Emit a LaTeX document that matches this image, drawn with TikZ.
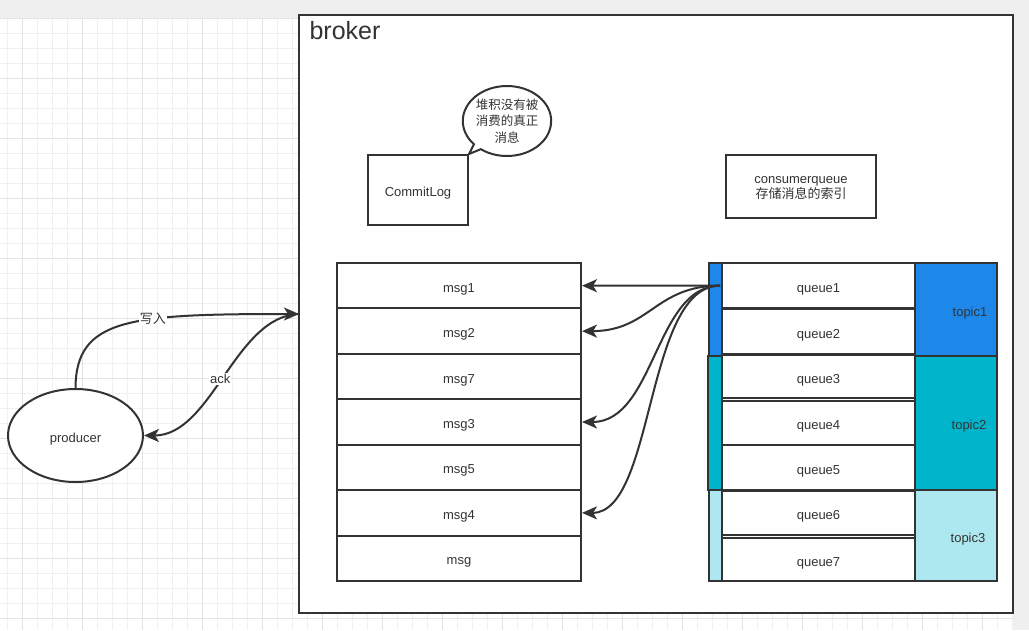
\documentclass[tikz,border=0pt]{standalone}
\usepackage{fontspec}
\setmainfont{Liberation Sans}
\newfontfamily\cjk{Noto Sans CJK SC}
\usetikzlibrary{arrows.meta,shapes.geometric,shapes.callouts}
\definecolor{ln}{HTML}{333333}
\definecolor{tA}{HTML}{1E88EA}
\definecolor{tB}{HTML}{00B4CC}
\definecolor{tC}{HTML}{ADE8F0}
\definecolor{gridminor}{HTML}{F0F0F0}
\definecolor{gridmajor}{HTML}{E3E3E3}
\definecolor{band}{HTML}{EFEFEF}
\begin{document}
\begin{tikzpicture}[x=1pt,y=-1pt,
  every node/.style={text=ln,font=\fontsize{13}{15}\selectfont},
  box/.style={draw=ln,line width=2pt,fill=white,inner sep=0pt,text height=13pt,text depth=0pt},
  plain/.style={draw=ln,line width=2pt,fill=white,inner sep=0pt},
  arr/.style={draw=ln,line width=2pt,-{Stealth[length=15pt,width=13pt,inset=4pt]}},
  lbl/.style={fill=white,inner sep=1pt}]
\useasboundingbox (0,0) rectangle (1029,630);
\fill[band] (0,0) rectangle (1029,630);
\fill[white] (0,18) rectangle (1013,630);
\foreach \x in {7,22,...,1012} \draw[gridminor,line width=1pt] (\x,18) -- (\x,630);
\foreach \y in {18,33,...,630} \draw[gridminor,line width=1pt] (0,\y) -- (1013,\y);
\foreach \x in {22,82,...,1012} \draw[gridmajor,line width=1pt] (\x,18) -- (\x,630);
\foreach \y in {18,78,...,630} \draw[gridmajor,line width=1pt] (0,\y) -- (1013,\y);

% broker frame
\node[plain,minimum width=714,minimum height=598] (broker) at (656,314) {};
\node[anchor=west,font=\fontsize{25}{28}\selectfont] (brokerlbl) at (306,31) {broker};

% CommitLog and bubble
\node[box,minimum width=100,minimum height=70] (cl) at (418,190) {CommitLog};
\node[ellipse callout,draw=ln,line width=2pt,fill=white,inner sep=0pt,
      minimum width=86,minimum height=70,align=center,
      callout absolute pointer={(cl.north east)},callout pointer arc=12,
      font=\cjk\fontsize{12.5}{16.5}\selectfont] (bub) at (507,121)
      {堆积没有被\\消费的真正\\消息};

% consumerqueue box
\node[plain,minimum width=150,minimum height=63] (cq) at (801,186.5) {};
\node[align=center,inner sep=0pt] (cqtxt) at (801,188.5)
  {consumerqueue\\{\cjk 存储消息的索引}};

% msg column
\foreach \i/\t in {1/msg1,2/msg2,3/msg7,4/msg3,5/msg5,6/msg4,7/msg}
  \node[box,minimum width=244,minimum height=45.43] (m\i) at (459,{263+45.43*(\i-0.5)}) {\t};

% topic strips
\node[plain,fill=tA,minimum width=13,minimum height=93] (s1) at (715.5,309.5) {};
\node[plain,fill=tB,minimum width=14,minimum height=134] (s2) at (714.5,423) {};
\node[plain,fill=tC,minimum width=13,minimum height=91] (s3) at (715.5,535.5) {};

% topic boxes
\node[box,fill=tA,minimum width=82,minimum height=93] (t1) at (956,309.5) {\hspace{28pt}topic1};
\node[box,fill=tB,minimum width=82,minimum height=134] (t2) at (956,423) {\hspace{26pt}topic2};
\node[box,fill=tC,minimum width=82,minimum height=91] (t3) at (956,535.5) {\hspace{24pt}topic3};

% queues
\node[box,minimum width=193,minimum height=45] (q1) at (818.5,285.5) {queue1};
\node[box,minimum width=193,minimum height=45] (q2) at (818.5,331.5) {queue2};
\node[box,minimum width=193,minimum height=43] (q3) at (818.5,376.5) {queue3};
\node[box,minimum width=193,minimum height=44] (q4) at (818.5,423) {queue4};
\node[box,minimum width=193,minimum height=45] (q5) at (818.5,467.5) {queue5};
\node[box,minimum width=193,minimum height=44] (q6) at (818.5,513) {queue6};
\node[box,minimum width=193,minimum height=43] (q7) at (818.5,559.5) {queue7};

% queue -> msg arrows
\coordinate (src) at (720,285.7);
\draw[arr] (src) -- (m1.east);
\draw[arr] (src) .. controls (655,285.7) and (650,331) .. (m2.east);
\draw[arr] (src) .. controls (655,285.7) and (655,422) .. (m4.east);
\draw[arr] (src) .. controls (645,285.7) and (655,513) .. (m6.east);

% producer
\node[draw=ln,line width=2pt,ellipse,fill=white,inner sep=0pt,text height=13pt,text depth=0pt,
      minimum width=135,minimum height=93] (prod) at (75.5,435.5) {producer};
\coordinate (bin) at (299,314);
\draw[arr] (prod.north) .. controls (76,318) and (130,314) .. (bin)
  node[lbl,pos=0.62] (wlbl) {\cjk 写入};
\draw[arr] (bin) .. controls (235,316) and (212,435.5) .. (prod.east)
  node[lbl,pos=0.52] (alb) {ack};
\end{tikzpicture}
\end{document}
